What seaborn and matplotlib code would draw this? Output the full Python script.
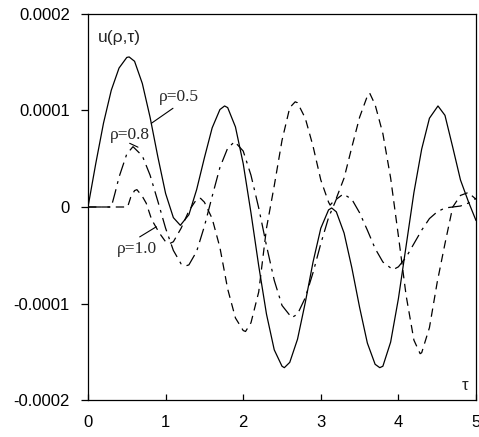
import numpy as np
import pandas as pd
import matplotlib
matplotlib.use("Agg")
import matplotlib.pyplot as plt
import seaborn as sns

sns.set_theme(style="white")
plt.rcParams['font.family'] = ['Liberation Sans', 'DejaVu Sans']
plt.rcParams['lines.scale_dashes'] = False

SCALE = 1e-4

# rho = 0.5 (solid)
tau_05 = [0, 0.1, 0.2, 0.3, 0.4, 0.5, 0.53, 0.6, 0.7, 0.8, 0.9, 1.0, 1.1, 1.19, 1.3, 1.4,
          1.5, 1.6, 1.7, 1.76, 1.8, 1.9, 2.0, 2.1, 2.2, 2.3, 2.4, 2.5, 2.53, 2.6, 2.7, 2.8,
          2.9, 3.0, 3.1, 3.14, 3.2, 3.3, 3.4, 3.5, 3.6, 3.7, 3.76, 3.8, 3.9, 4.0, 4.1, 4.2,
          4.3, 4.4, 4.51, 4.6, 4.7, 4.8, 4.9, 5.0]
u_05 = [0, 0.45, 0.87, 1.21, 1.44, 1.55, 1.555, 1.51, 1.28, 0.93, 0.52, 0.14, -0.11, -0.19,
        -0.08, 0.18, 0.51, 0.82, 1.01, 1.047, 1.03, 0.83, 0.45, -0.06, -0.61, -1.11, -1.48,
        -1.65, -1.665, -1.61, -1.37, -0.99, -0.57, -0.22, -0.03, -0.01, -0.05, -0.27, -0.63,
        -1.04, -1.41, -1.63, -1.665, -1.65, -1.40, -0.95, -0.40, 0.15, 0.60, 0.92, 1.047,
        0.95, 0.62, 0.28, 0.06, -0.14]

# rho = 0.8 (dash-dot)
tau_08 = [0, 0.3, 0.35, 0.4, 0.5, 0.58, 0.7, 0.8, 0.9, 1.0, 1.1, 1.2, 1.26, 1.3, 1.4, 1.5,
          1.6, 1.7, 1.8, 1.89, 2.0, 2.1, 2.2, 2.3, 2.4, 2.5, 2.625, 2.7, 2.8, 2.9, 3.0, 3.1,
          3.2, 3.29, 3.4, 3.5, 3.6, 3.7, 3.8, 3.93, 4.0, 4.1, 4.2, 4.3, 4.4, 4.5, 4.6, 4.7,
          4.8, 4.9, 5.0]
u_08 = [0, 0, 0.15, 0.31, 0.55, 0.625, 0.53, 0.33, 0.06, -0.22, -0.45, -0.59, -0.61, -0.60,
        -0.46, -0.20, 0.11, 0.41, 0.61, 0.677, 0.58, 0.33, -0.01, -0.40, -0.76, -1.02, -1.147,
        -1.11, -0.94, -0.68, -0.38, -0.11, 0.08, 0.135, 0.08, -0.06, -0.24, -0.43, -0.57,
        -0.65, -0.62, -0.52, -0.38, -0.24, -0.12, -0.05, -0.01, 0.0, 0.01, 0.04, 0.09]

# rho = 1.0 (dashed)
tau_10 = [0, 0.51, 0.55, 0.6, 0.63, 0.7, 0.75, 0.82, 0.92, 1.0, 1.05, 1.1, 1.2, 1.3, 1.4,
          1.45, 1.5, 1.6, 1.7, 1.8, 1.9, 2.0, 2.03, 2.1, 2.2, 2.3, 2.4, 2.5, 2.6, 2.67, 2.7,
          2.8, 2.9, 3.0, 3.1, 3.12, 3.2, 3.3, 3.4, 3.5, 3.6, 3.63, 3.7, 3.8, 3.9, 4.0, 4.1,
          4.2, 4.28, 4.3, 4.4, 4.5, 4.6, 4.7, 4.8, 4.9, 5.0]
u_10 = [0, 0, 0.10, 0.17, 0.18, 0.11, 0.04, -0.13, -0.27, -0.36, -0.38, -0.36, -0.22, -0.04,
        0.08, 0.09, 0.05, -0.12, -0.42, -0.85, -1.15, -1.28, -1.29, -1.20, -0.88, -0.22, 0.22,
        0.69, 1.03, 1.09, 1.08, 0.92, 0.63, 0.28, 0.05, 0.02, 0.09, 0.30, 0.62, 0.93, 1.15,
        1.18, 1.06, 0.76, 0.30, -0.30, -0.92, -1.38, -1.52, -1.51, -1.25, -0.78, -0.38, 0.0,
        0.12, 0.15, 0.08]

curve_labels = ["ρ=0.5", "ρ=0.8", "ρ=1.0"]
x_ticks = [0, 1, 2, 3, 4, 5]
y_ticks = [0.0002, 0.0001, 0, -0.0001, -0.0002]
y_tick_labels = ["0.0002", "0.0001", "0", "-0.0001", "-0.0002"]

fig = plt.figure(figsize=(4.79, 4.37), dpi=100)
ax = fig.add_axes([88/479, 37/437, 388/479, 386/437])

styles = [
    (tau_05, u_05, '-'),
    (tau_08, u_08, (0, (10, 4, 2, 4))),
    (tau_10, u_10, (0, (6, 4))),
]
for t, u, ls in styles:
    df = pd.DataFrame({"tau": t, "u": np.array(u) * SCALE})
    sns.lineplot(data=df, x="tau", y="u", ax=ax, color="black", lw=0.9,
                 linestyle=ls, sort=False, estimator=None)

ax.set_xlim(0, 5)
ax.set_ylim(-0.0002, 0.0002)
ax.set_xticks(x_ticks)
ax.set_xticklabels([str(v) for v in x_ticks])
ax.set_yticks(y_ticks)
ax.set_yticklabels(y_tick_labels)
ax.set_xlabel("")
ax.set_ylabel("")
ax.tick_params(axis='x', direction='in', length=4, width=0.9, pad=11, labelsize=12, colors='black')
ax.tick_params(axis='y', direction='out', length=5, width=0.9, pad=8, labelsize=12, colors='black')
ax.tick_params(axis='both', which='both', bottom=True, left=True)
for s in ax.spines.values():
    s.set_visible(True)
    s.set_color('black')
    s.set_linewidth(0.9)

serif = ['Liberation Serif', 'DejaVu Serif']
ax.text(1.166, 1.135 * SCALE, curve_labels[0], family=serif, fontsize=12.5, ha='center', va='center')
ax.plot([1.095, 0.816], [1.023 * SCALE, 0.867 * SCALE], color='black', lw=0.8)
ax.text(0.54, 0.746 * SCALE, curve_labels[1], family=serif, fontsize=12.5, ha='center', va='center')
ax.plot([0.537, 0.644], [0.66 * SCALE, 0.62 * SCALE], color='black', lw=0.8)
ax.text(0.63, -0.435 * SCALE, curve_labels[2], family=serif, fontsize=12.5, ha='center', va='center')
ax.plot([0.666, 0.88], [-0.31 * SCALE, -0.205 * SCALE], color='black', lw=0.8)

ax.text(0.13, 1.76 * SCALE, "u(ρ,τ)", fontsize=12.5, ha='left', va='center')
ax.text(4.86, -1.845 * SCALE, "τ", fontsize=12, ha='center', va='center')

fig.savefig("out.png", dpi=100)
